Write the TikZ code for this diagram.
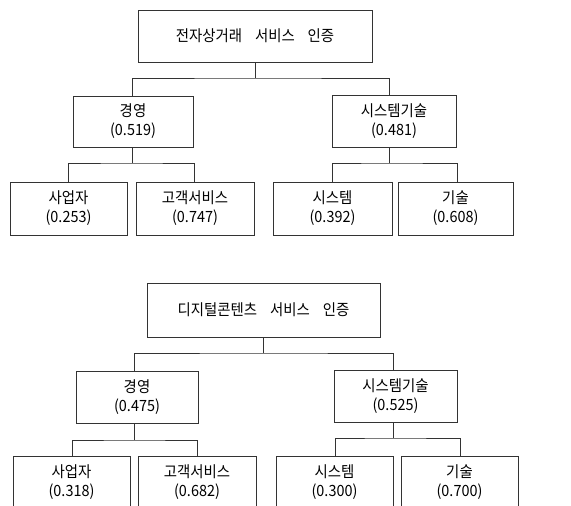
\documentclass[tikz,border=0pt]{standalone}
\usepackage{fontspec}
\newfontfamily\kr[FakeStretch=0.93,WordSpace=4]{Noto Sans CJK KR}
\begin{document}
\begin{tikzpicture}[x=1pt,y=-1pt,
  box/.style={draw=black!80, line width=0.7pt, inner sep=0pt, align=center,
    font=\kr\fontsize{15.5}{19}\selectfont},
  conn/.style={draw=black!80, line width=0.7pt}]
\useasboundingbox (0,0) rectangle (571,506);
\clip (0,0) rectangle (571,506);
% ---------- top tree ----------
\node[box, minimum width=234pt, minimum height=52pt] (T1) at (255,36) {전자상거래 서비스 인증};
\node[box, minimum width=120pt, minimum height=51pt] (A1) at (133,121.5) {경영\\(0.519)};
\node[box, minimum width=124pt, minimum height=52pt] (B1) at (394,121) {시스템기술\\(0.481)};
\node[box, minimum width=117pt, minimum height=53pt] (L1a) at (68.5,208.5) {사업자\\(0.253)};
\node[box, minimum width=118pt, minimum height=53pt] (L1b) at (195,208.5) {고객서비스\\(0.747)};
\node[box, minimum width=119pt, minimum height=53pt] (L1c) at (332.5,208.5) {시스템\\(0.392)};
\node[box, minimum width=115pt, minimum height=53pt] (L1d) at (455.5,208.5) {기술\\(0.608)};
\coordinate (j1) at (255,78);
\coordinate (j2) at (132,163);
\coordinate (j3) at (389,163);
\draw[conn] (T1.south) -- (j1);
\draw[conn] ([xshift=-1pt]A1.north) |- (j1) -| ([xshift=-5pt]B1.north);
\draw[conn] ([xshift=-1pt]A1.south) -- (j2);
\draw[conn] ([xshift=-0.5pt]L1a.north) |- (j2) -| ([xshift=-1pt]L1b.north);
\draw[conn] ([xshift=-5pt]B1.south) -- (j3);
\draw[conn] (L1c.north) |- (j3) -| ([xshift=1.5pt]L1d.north);
% ---------- bottom tree ----------
\node[box, minimum width=233pt, minimum height=54pt] (T2) at (263.5,310) {디지털콘텐츠 서비스 인증};
\node[box, minimum width=122pt, minimum height=52pt] (A2) at (137,397) {경영\\(0.475)};
\node[box, minimum width=123pt, minimum height=52pt] (B2) at (395.5,396) {시스템기술\\(0.525)};
\node[box, minimum width=117pt, minimum height=53pt] (L2a) at (71.5,482.5) {사업자\\(0.318)};
\node[box, minimum width=118pt, minimum height=53pt] (L2b) at (197,482.5) {고객서비스\\(0.682)};
\node[box, minimum width=117pt, minimum height=53pt] (L2c) at (334.5,482.5) {시스템\\(0.300)};
\node[box, minimum width=117pt, minimum height=53pt] (L2d) at (459.5,482.5) {기술\\(0.700)};
\coordinate (k1) at (263.5,353);
\coordinate (k2) at (134,440);
\coordinate (k3) at (393,438);
\draw[conn] (T2.south) -- (k1);
\draw[conn] ([xshift=-3pt]A2.north) |- (k1) -| ([xshift=-2.5pt]B2.north);
\draw[conn] ([xshift=-3pt]A2.south) -- (k2);
\draw[conn] ([xshift=0.5pt]L2a.north) |- (k2) -| (L2b.north);
\draw[conn] ([xshift=-2.5pt]B2.south) -- (k3);
\draw[conn] ([xshift=0.5pt]L2c.north) |- (k3) -| ([xshift=0.5pt]L2d.north);
\end{tikzpicture}
\end{document}
